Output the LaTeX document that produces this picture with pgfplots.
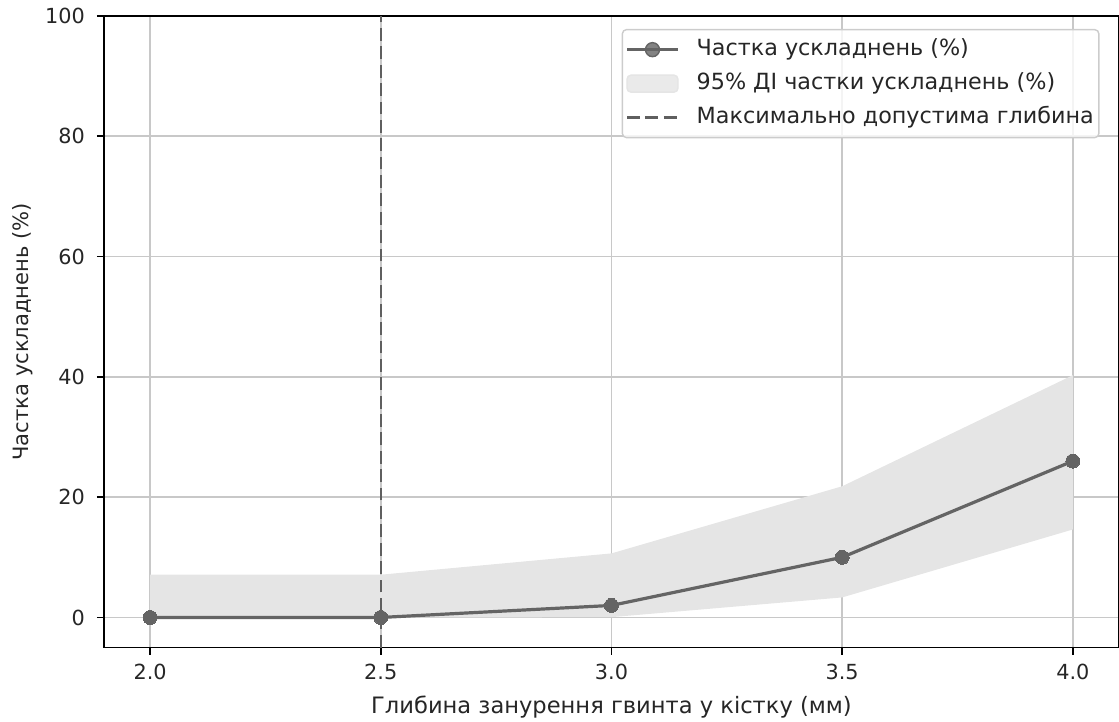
\documentclass[border=0pt]{standalone}
\usepackage{fontspec}
\setmainfont{DejaVu Sans}
\usepackage{pgfplots}
\pgfplotsset{compat=1.18}
\definecolor{linec}{RGB}{100,100,100}
\definecolor{dashc}{RGB}{95,95,95}
\definecolor{bandc}{RGB}{229,229,229}
\definecolor{gridc}{RGB}{200,200,200}
\begin{document}
\begin{tikzpicture}
\begin{axis}[
  at={(0,0)}, anchor=south west,
  scale only axis, width=507.9pt, height=316pt,
  xmin=1.9, xmax=4.1, ymin=-5, ymax=100,
  xtick={2.0,2.5,3.0,3.5,4.0},
  xticklabels={2.0,2.5,3.0,3.5,4.0},
  ytick={0,20,40,60,80,100},
  tick align=outside, major tick length=3.5pt,
  tick style={black, line width=0.9pt},
  xtick pos=bottom, ytick pos=left,
  grid=major, major grid style={gridc, line width=0.9pt},
  axis line style={black, line width=0.9pt},
  /pgf/number format/assume math mode=true,
  tick label style={font=\fontsize{10.4}{12.5}\selectfont, text=black!85},
  yticklabel style={xshift=-2.5pt},
  xticklabel style={yshift=-1pt},
  every axis x label/.style={at={(axis description cs:0.5,-0.0949)}, anchor=center,
    font=\fontsize{11.3}{13.5}\selectfont, text=black!85},
  every axis y label/.style={at={(axis description cs:-0.0797,0.5)}, rotate=90, anchor=center,
    font=\fontsize{10.55}{12.6}\selectfont, text=black!85},
  xlabel={Глибина занурення гвинта у кістку (мм)},
  ylabel={Частка ускладнень (\%)},
  legend cell align=left,
  legend style={at={(axis description cs:1,1)}, xshift=-9.75pt, yshift=-6.5pt, anchor=north east,
    draw=black!20, line width=0.7pt, rounded corners=2pt, fill=white, fill opacity=0.8, text opacity=1,
    font=\fontsize{11.15}{13.4}\selectfont, text=black!85,
    inner xsep=1.5pt, inner ysep=3.5pt, row sep=4pt,
    nodes={inner sep=1pt, text height=8.5pt, text depth=2.5pt}},
]
\addlegendimage{legend image code/.code={
  \draw[linec, line width=1.6pt] (0pt,0pt) -- (25.5pt,0pt);
  \fill[linec] (12.75pt,0pt) circle (3.5pt);
  \path (33.5pt,0pt);}}
\addlegendentry{Частка ускладнень (\%)}
\addlegendimage{legend image code/.code={
  \fill[bandc] (0pt,-4.25pt) rectangle (25.5pt,4.25pt);
  \path (33.5pt,0pt);}}
\addlegendentry{95\% ДІ частки ускладнень (\%)}
\addlegendimage{legend image code/.code={
  \draw[dashc, line width=1.15pt, dash pattern=on 6.4pt off 2.8pt] (0pt,0pt) -- (25.5pt,0pt);
  \path (33.5pt,0pt);}}
\addlegendentry{Максимально допустима глибина}

\addplot[forget plot, draw=none, fill=bandc] coordinates {
  (2.0,7.11) (2.5,7.11) (3.0,10.65) (3.5,21.81) (4.0,40.28)
  (4.0,14.63) (3.5,3.33) (3.0,0.05) (2.5,0) (2.0,0)} -- cycle;
\addplot[forget plot, linec, line width=1.6pt, mark=*, mark size=3.5pt,
  mark options={fill=linec, draw=linec, line width=0pt}] coordinates {
  (2.0,0) (2.5,0) (3.0,2) (3.5,10) (4.0,26)};
\addplot[forget plot, dashc, line width=1.15pt, dash pattern=on 6.4pt off 2.8pt] coordinates {
  (2.5,-5) (2.5,100)};
\end{axis}
\pgfresetboundingbox
\path (-52pt,-37pt) rectangle (507.9pt,324pt);
\end{tikzpicture}
\end{document}
